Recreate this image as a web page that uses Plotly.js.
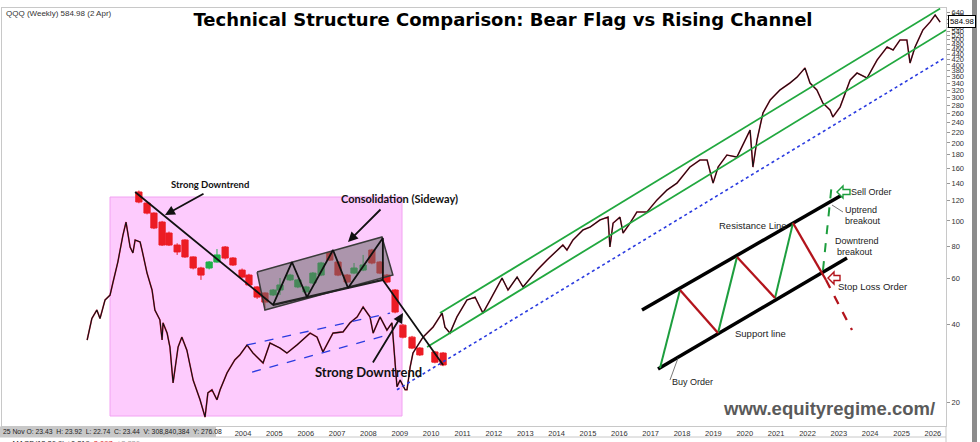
<!DOCTYPE html>
<html><head><meta charset="utf-8">
<script src="https://cdn.plot.ly/plotly-3.0.1.min.js"></script>
<style>html,body{margin:0;padding:0;background:#fff}#chart{width:980px;height:442px}</style>
</head><body><div id="chart"></div>
<script>
// ---------- DATA ----------
const priceYears = [1999.03,1999.18,1999.34,1999.44,1999.60,1999.76,1999.85,
2000.01,2000.17,2000.27,2000.40,2000.49,2000.56,2000.72,2000.78,2000.94,
2001.10,2001.19,2001.35,2001.42,2001.45,2001.58,2001.67,2001.77,2001.93,
2002.05,2002.21,2002.41,2002.63,2002.79,2002.88,
2003.01,2003.17,2003.27,2003.49,2003.74,2003.90,
2004.13,2004.32,2004.64,2004.86,
2005.18,2005.40,2005.72,
2006.14,2006.36,2006.55,2006.87,
2007.19,2007.41,2007.64,2007.83,
2008.05,2008.15,2008.37,2008.59,2008.75,2008.85,2008.91,
2009.01,2009.17,2009.23,2009.33,2009.42,2009.74,
2010.06,2010.35,2010.44,2010.60,2010.82,
2011.14,2011.40,2011.65,2011.88,
2012.26,2012.45,2012.74,2012.93,
2013.38,2013.69,
2014.01,2014.20,2014.33,2014.52,2014.84,
2015.07,2015.38,2015.64,2015.70,2015.80,
2016.02,2016.12,2016.34,2016.56,2016.88,
2017.20,2017.52,2017.84,
2018.25,2018.57,2018.80,2018.99,
2019.15,2019.43,2019.75,
2020.07,2020.17,2020.26,2020.39,2020.58,2020.81,
2021.12,2021.44,2021.67,2021.92,
2022.08,2022.30,2022.49,2022.72,2022.81,
2023.04,2023.36,2023.58,2023.90,
2024.22,2024.54,2024.73,2024.95,
2025.17,2025.27,2025.43,2025.68,2025.91,
2026.07,2026.23];
const priceValues = [34.7,42,45.3,42,49.5,51.7,57.6,
69.5,88,99,79.3,75.2,84.4,82.9,77.2,62.9,
54.1,45.3,41.5,34.7,40.4,36.9,32.6,23.7,32.6,
35.6,31.7,24.3,20.4,17.5,21.7,
22.3,20.4,22.3,25.9,29.1,30.4,
33.2,30.9,28.3,33.8,
32.3,30.9,33.2,
36.9,35.6,31.2,36.9,
37.3,40.4,42.6,46.5,
42.6,36.9,42.6,37.9,40.4,27.3,22.9,
24.3,22.3,22.3,27.3,30.9,35.6,
38.9,44.1,38.9,36.9,42.6,
49.5,50.8,44.1,49.5,
60.2,54.1,60.7,55.6,
64.6,70.6,
77.2,80.7,77.2,84.4,92.2,
94.7,100.8,103.5,79.3,98,
103.5,89.8,98,108.2,108.2,
120.4,131.6,140,
161.4,171.8,171.8,140,
161.4,179.6,176.4,
210.8,224.2,161.4,205.2,260.9,292.8,
320,340.6,359.2,389.2,
340.6,320,285.1,268,251.8,
275.2,349.8,372.2,356,
417.8,469,456.6,499,
499,406.8,469,545.6,585.8,
623.2,585];

// illustrative bear-flag candles
const candleYears = [2000.68,2000.94,2001.16,2001.42,2001.64,2001.90,2002.15,2002.41,2002.66,2002.92,2003.17,2003.43,2003.68,2003.97,2004.19,2004.45,2004.70,2004.96,2005.18,2005.50,2005.75,2006.01,2006.23,2006.49,2006.77,2007.03,2007.32,2007.54,2007.83,2008.11,2008.37,2008.59,2008.85,2009.10,2009.39,2009.64,2010.12,2010.38];
const candleOpen  = [129.3,117.2,107.2,99.0,89.8,80.7,84.4,72.6,65.8,65.8,69.4,79.3,71.9,64.6,61.8,55.6,52.7,51.8,54.1,59.2,55.6,53.2,57.6,61.8,75.2,69.4,61.8,62.9,64.6,77.2,69.4,61.8,54.1,39.6,35.6,32.3,31.2,30.9];
const candleHigh  = [131,118,108,100,91,82,85,73,66.5,70,77.9,80,72.5,65.5,62.5,56,53,54.6,60.2,62.5,59.8,56.2,63.5,69.5,76,70,62.4,68.8,73.9,78,70,62.4,54.6,40,36,32.6,31.5,31.2];
const candleLow   = [117,106,93,80,80,73.9,72,65,59.2,65,69,71,67,60,56,50,46.1,51.3,51.8,58.6,55,52.7,57,61.2,70,61.2,57.5,62.3,64,68,62.3,57.5,44,35.2,32,30.1,28.2,27.5];
const candleClose = [118.3,107.2,93.9,80.7,80.7,75.9,72.6,65.8,61.8,69.4,73.9,71.9,67.6,60.7,56.6,50.8,48.6,54.1,56.6,61.8,59.2,55.6,62.9,68.8,70.6,61.8,58.1,65.8,67.6,68.8,62.9,58.1,44.5,35.6,32.3,30.4,28.5,27.8];

// pattern lines (year, price)
const upperChannelYears = [2010.28, 2026.23], upperChannelValues = [44.1, 660];
const midChannelYears = [2009.87, 2026.42], midChannelValues = [32.6, 545.6];
const lowChannelYears = [2008.91, 2026.42], lowChannelValues = [22.3, 429];
const flagChanUpYears = [2004.13, 2008.69], flagChanUpValues = [33.2, 44.1];
const flagChanLoYears = [2004.29, 2008.62], flagChanLoValues = [26.1, 36.3];
const bearPathYears = [2000.56,2004.96,2005.56,2006.04,2006.87,2007.35,2008.46,2008.46,2010.38];
const bearPathValues = [129.3,47.4,69.4,50.8,77.2,55.1,85.9,59.2,27.8];
const flagBaseYears = [2004.96,2008.46], flagBaseValues = [47.4,59.2];
const flagBoxYears = [2004.45,2008.43,2008.78,2004.70,2004.45];
const flagBoxValues = [63.5,86.7,61.8,45.3,63.5];

const yearTicks = [2004,2005,2006,2007,2008,2009,2010,2011,2012,2013,2014,2015,2016,2017,2018,2019,2020,2021,2022,2023,2024,2025,2026];
const priceTicks = [20,40,60,80,100,120,140,160,180,200,220,240,260,280,300,320,340,360,380,400,420,440,460,480,500,520,540,560,580,600,620,640];

// ---------- FRAME HELPERS (illustration overlay, paper coords) ----------
const L0 = 2, T0 = 8, PW = 944, PH = 418;
const px = x => (x - L0) / PW;
const py = y => (T0 + PH - y) / PH;
function seg(x0,y0,x1,y1,color,width,dash){
  return {type:'line',xref:'paper',yref:'paper',x0:px(x0),y0:py(y0),x1:px(x1),y1:py(y1),
    line:{color:color,width:width,dash:dash||'solid'},layer:'above'};
}
function poly(pts,color,fill,width){
  let d = pts.map((p,i)=>(i?'L':'M')+px(p[0])+','+py(p[1])).join(' ')+' Z';
  return {type:'path',xref:'paper',yref:'paper',path:d,line:{color:color,width:width||1.3},fillcolor:fill,layer:'above'};
}
function rect(x0,y0,x1,y1,fill,lineColor,layer){
  return {type:'rect',xref:'paper',yref:'paper',x0:px(x0),y0:py(y0),x1:px(x1),y1:py(y1),
    fillcolor:fill,line:{width:lineColor?1:0,color:lineColor||fill},layer:layer||'above'};
}
function txt(x,y,text,size,o){
  o = o || {};
  return {xref:'paper',yref:'paper',x:px(x),y:py(y),text:text,showarrow:false,
    xanchor:o.xa||'center',yanchor:'middle',
    font:{family:o.family||'Liberation Sans, sans-serif',size:size,color:o.color||'#111',weight:o.weight||'normal'},
    bgcolor:o.bg,bordercolor:o.bc,borderwidth:o.bw||0,borderpad:o.pad||0};
}
function arrow(hx,hy,tx,ty){
  return {xref:'paper',yref:'paper',x:px(hx),y:py(hy),ax:tx-hx,ay:ty-hy,text:'',showarrow:true,
    arrowhead:2,arrowsize:1.1,arrowwidth:1.8,arrowcolor:'#111'};
}

const FNT = 'Lato, "Open Sans", sans-serif';
const NARROW = '"Liberation Sans Narrow", "Liberation Sans", sans-serif';

// ---------- TRACES ----------
const traces = [
  {x:priceYears,y:priceValues,mode:'lines',line:{color:'#e0163c',width:1.6},opacity:0.85,hoverinfo:'skip'},
  {x:priceYears,y:priceValues,mode:'lines',line:{color:'#111',width:1.1},hoverinfo:'skip'},
  {x:lowChannelYears,y:lowChannelValues,mode:'lines',line:{color:'#2a3be0',width:1.6,dash:'dot'}},
  {x:midChannelYears,y:midChannelValues,mode:'lines',line:{color:'#21a83f',width:1.8}},
  {x:upperChannelYears,y:upperChannelValues,mode:'lines',line:{color:'#21a83f',width:1.8}},
  {x:flagChanUpYears,y:flagChanUpValues,mode:'lines',line:{color:'#2a3be0',width:1.3,dash:'dash'}},
  {x:flagChanLoYears,y:flagChanLoValues,mode:'lines',line:{color:'#2a3be0',width:1.3,dash:'dash'}},
  {type:'candlestick',x:candleYears,open:candleOpen,high:candleHigh,low:candleLow,close:candleClose,
    increasing:{line:{color:'#20b04a',width:1},fillcolor:'#20b04a'},
    decreasing:{line:{color:'#ec1c24',width:1},fillcolor:'#ec1c24'},whiskerwidth:0,hoverinfo:'skip'},
  {x:flagBoxYears,y:flagBoxValues,mode:'lines',fill:'toself',fillcolor:'rgba(105,105,105,0.55)',line:{color:'#3a3a3a',width:1.5}},
  {x:flagBaseYears,y:flagBaseValues,mode:'lines',line:{color:'#222',width:2.2}},
  {x:bearPathYears,y:bearPathValues,mode:'lines',line:{color:'#111',width:1.8}}
];

// ---------- OVERLAY SHAPES ----------
const shapes = [
  rect(110,197,402,416,'#fdcbfd','#f2a2f2','below'),
  rect(0,426.5,216,437,'#c8c8c8'),
  seg(0,437,946,437,'#c8c8c8',1),
  seg(946,426,946,442,'#c8c8c8',1),
  rect(972,0,977,442,'#8c8c8c'),
  seg(642,310,842,195,'#000',3.5),
  seg(658,369,847,258,'#000',3.5),
  seg(660,368,680,290,'#1d9e3e',2),
  seg(718,333,737,257,'#1d9e3e',2),
  seg(775,298,793,223,'#1d9e3e',2),
  seg(680,290,718,333,'#b3141c',2.3),
  seg(737,257,775,298,'#b3141c',2.3),
  seg(793,223,826,280,'#b3141c',2.3),
  seg(826,280,852,330,'#b3141c',2.3,'dash'),
  seg(823,270,832,182,'#1d9e3e',2,'dash'),
  seg(832,205,843,212,'#555',0.8),
  seg(678,358,670,380,'#555',0.8),
  poly([[837,192],[843,186],[843,189.5],[850,189.5],[850,194.5],[843,194.5],[843,198]],'#1d9e3e','#fff',1.4),
  poly([[828,278],[834,272],[834,275.5],[840,275.5],[840,280.5],[834,280.5],[834,284]],'#b3141c','#fff',1.4)
];

// ---------- ANNOTATIONS ----------
const annotations = [
  txt(6,14,'QQQ (Weekly) 584.98 (2 Apr)',8,{xa:'left',color:'#333'}),
  txt(210,184,'Strong Downtrend',9.5,{family:FNT,weight:'bold'}),
  txt(399,198,'Consolidation (Sideway)',11,{family:FNT,weight:'bold'}),
  txt(368,372,'Strong Downtrend',13,{family:FNT,weight:'bold'}),
  arrow(165,215,205,193),
  arrow(348,242,382,208),
  arrow(403,313,372,364),
  txt(829,408,'www.equityregime.com/',18.5,{weight:'bold',color:'#5a5a5a',family:'Liberation Sans, Arial, sans-serif'}),
  txt(3,431.5,'25 Nov O: 23.43&nbsp; H: 23.92&nbsp; L: 22.74&nbsp; C: 23.44&nbsp; V: 308,840,384&nbsp; Y: 276.08',6.8,{xa:'left',color:'#222'}),
  txt(3,443,'— MACD(12,26,9) ±0.219, <span style="color:#e02020">2.097</span>, <span style="color:#999">+2.236</span>',7.5,{xa:'left',color:'#222'}),
  txt(948,21.5,'584.98',7.8,{xa:'left',color:'#000',bg:'#fff',bc:'#000',bw:1,pad:1}),
  txt(851,192,'Sell Order',9,{xa:'left',family:NARROW,color:'#222'}),
  txt(845,210,'Uptrend',9,{xa:'left',family:NARROW,color:'#222'}),
  txt(845,221,'breakout',9,{xa:'left',family:NARROW,color:'#222'}),
  txt(835,241,'Downtrend',9,{xa:'left',family:NARROW,color:'#222'}),
  txt(837,252,'breakout',9,{xa:'left',family:NARROW,color:'#222'}),
  txt(838,286,'Stop Loss Order',9.5,{xa:'left',family:NARROW,color:'#222'}),
  txt(753,226,'Resistance Line',9.5,{family:NARROW,color:'#222'}),
  txt(760,333,'Support line',9.5,{family:NARROW,color:'#222'}),
  txt(672,382,'Buy Order',9,{xa:'left',family:NARROW,color:'#222'})
];

const layout = {
  width:980,height:442,
  margin:{l:2,r:34,t:8,b:16,pad:0},
  paper_bgcolor:'#fff',plot_bgcolor:'#fff',
  showlegend:false,
  boxgap:0.1,boxgroupgap:0,
  title:{text:'<b>Technical Structure Comparison: Bear Flag vs Rising Channel</b>',
    font:{family:'"DejaVu Sans", sans-serif',size:18,color:'#000'},
    xref:'paper',x:(503-L0)/PW,xanchor:'center',yref:'container',y:1-20/442,yanchor:'middle'},
  xaxis:{range:[1996.315,2026.417],tickvals:yearTicks,ticktext:yearTicks.map(String),
    showgrid:false,zeroline:false,showline:true,mirror:true,linecolor:'#c8c8c8',linewidth:1,
    ticks:'',tickfont:{family:'Liberation Sans, sans-serif',size:7.5,color:'#333'},
    rangeslider:{visible:false},fixedrange:true},
  yaxis:{type:'log',range:[Math.log10(16.16),Math.log10(663.4)],side:'right',
    tickvals:priceTicks,ticktext:priceTicks.map(String),
    showgrid:false,zeroline:false,showline:true,mirror:true,linecolor:'#c8c8c8',linewidth:1,
    ticks:'outside',ticklen:3,tickcolor:'#999',
    tickfont:{family:'Liberation Sans, sans-serif',size:7.5,color:'#333'},fixedrange:true},
  shapes:shapes,
  annotations:annotations
};

Plotly.newPlot('chart',traces,layout,{staticPlot:true,displayModeBar:false});
</script>
</body></html>
